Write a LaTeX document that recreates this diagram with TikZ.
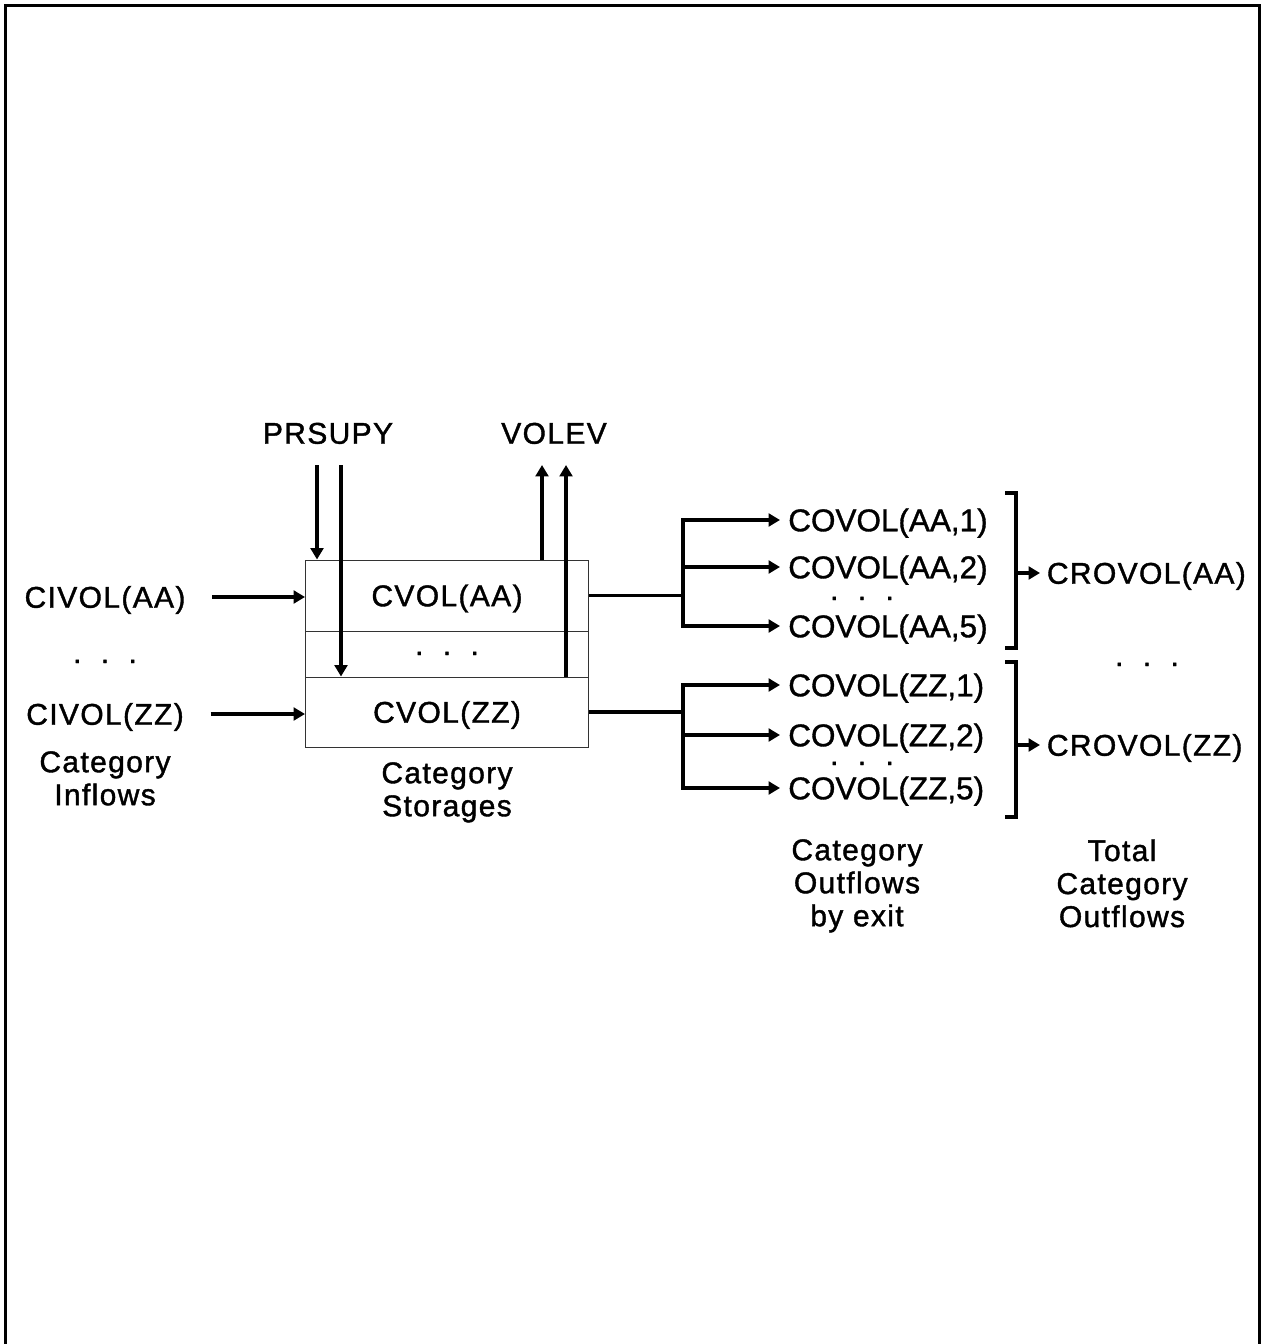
\documentclass[tikz,border=0pt]{standalone}
\usepackage{fontspec}
\setmainfont{Liberation Sans}
\newfontfamily\labelfont[LetterSpace=4.5,FakeBold=1.3]{Liberation Sans}
\newfontfamily\exitfont[FakeBold=1.1]{Liberation Sans}
\usetikzlibrary{arrows.meta}

\begin{document}
\begin{tikzpicture}[x=0.75pt,y=-0.75pt,
  lbl/.style={font=\labelfont\fontsize{22.5}{24.75}\selectfont, inner sep=0pt,
    text height=16.1pt, text depth=0pt},
  mlbl/.style={font=\labelfont\fontsize{22.5}{24.75}\selectfont, inner sep=0pt,
    align=center, anchor=north},
  exit/.style={font=\exitfont\fontsize{23.6}{25}\selectfont, inner ysep=0pt,
    inner xsep=6pt, text height=16.9pt, text depth=0pt, anchor=west},
  tot/.style={lbl, inner xsep=5pt, anchor=west},
  cell/.style={draw=black!80, line width=0.75pt, minimum width=212.25pt,
    inner sep=0pt, font=\labelfont\fontsize{22.5}{24.75}\selectfont,
    text height=16.1pt, text depth=0pt},
  dots/.style={font=\labelfont\fontsize{22.5}{24.75}\selectfont, inner sep=0pt,
    anchor=base},
  line/.style={line width=2.8pt},
  flow/.style={line width=2.8pt, -{Triangle[length=8.5pt,width=9.5pt]}},
  brk/.style={line width=3.4pt},
  frame/.style={line width=2.4pt}]

\useasboundingbox (0,0) rectangle (1262,1344);

% outer frame, open at the foot of the page
\draw[frame] (5.5,1344) -- (5.5,5.5) -- (1259.5,5.5) -- (1259.5,1344);

\newcommand{\ddd}{.\hspace{14.5pt}.\hspace{14.5pt}.}

% top labels
\node[lbl] (prsupy) at (328,433) {PRSUPY};
\node[lbl] (volev)  at (554,433) {VOLEV};

% inflows
\node[lbl] (civA) at (105,597) {CIVOL(AA)};
\node[dots] (dL) at (105,663) {\ddd};
\node[lbl] (civZ) at (105,714) {CIVOL(ZZ)};
\node[mlbl] (inL) at (105,751) {Category\\Inflows};

% storage cells
\node[cell, minimum height=53.25pt] (cAA) at (447,595.5) {CVOL(AA)};
\node[cell, minimum height=34.5pt, text height=0pt] (cMid) at (447,654) {};
\node[dots] (dM) at (447,655) {\ddd};
\node[cell, minimum height=52.5pt] (cZZ) at (447,712) {CVOL(ZZ)};
\node[mlbl] (stL) at (447,762) {Category\\Storages};

% inflow arrows
\draw[flow] ([xshift=20pt]civA.east) -- (civA.east -| cAA.west);
\draw[flow] ([xshift=20pt]civZ.east) -- (civZ.east -| cZZ.west);

% precipitation supply and evaporation
\coordinate (p1) at (317,465);
\coordinate (p2) at (341,465);
\coordinate (v1) at (542,465);
\coordinate (v2) at (566,465);
\draw[flow] (p1) -- (p1 |- cAA.north);
\draw[flow] (p2) -- (p2 |- cZZ.north);
\draw[flow] (v1 |- cAA.north) -- (v1);
\draw[flow] (v2 |- cZZ.north) -- (v2);

% outflows by exit
\node[exit] (oA1) at (780,520) {COVOL(AA,1)};
\node[exit] (oA2) at (780,567) {COVOL(AA,2)};
\node[dots] (dA) at (862,600) {\ddd};
\node[exit] (oA5) at (780,626) {COVOL(AA,5)};

\node[exit] (oZ1) at (780,685) {COVOL(ZZ,1)};
\node[exit] (oZ2) at (780,735) {COVOL(ZZ,2)};
\node[dots] (dZ) at (862,765) {\ddd};
\node[exit] (oZ5) at (780,788) {COVOL(ZZ,5)};

\coordinate (jA) at (683,595.5);
\coordinate (jZ) at (683,712);
\draw[line] (cAA.east) -- (jA);
\draw[flow] (jA) |- (oA1.west);
\draw[flow] (jA) |- (oA2.west);
\draw[flow] (jA) |- (oA5.west);
\draw[line] (cZZ.east) -- (jZ);
\draw[flow] (jZ) |- (oZ1.west);
\draw[flow] (jZ) |- (oZ2.west);
\draw[flow] (jZ) |- (oZ5.west);

% totals
\node[tot] (crA) at (1040,573) {CROVOL(AA)};
\node[dots] (dR) at (1147,666) {\ddd};
\node[tot] (crZ) at (1040,745) {CROVOL(ZZ)};

\coordinate (bA) at (1016,573);
\coordinate (bZ) at (1016,745);
\draw[brk] (1005,493) -| (1016,648) -- (1005,648);
\draw[brk] (1005,662) -| (1016,817) -- (1005,817);
\draw[flow] (bA) -- (crA.west);
\draw[flow] (bZ) -- (crZ.west);

% column captions
\node[mlbl] (exL) at (857,839) {Category\\Outflows\\by exit};
\node[mlbl] (totL) at (1122,839) {Total\\Category\\Outflows};

\end{tikzpicture}
\end{document}
